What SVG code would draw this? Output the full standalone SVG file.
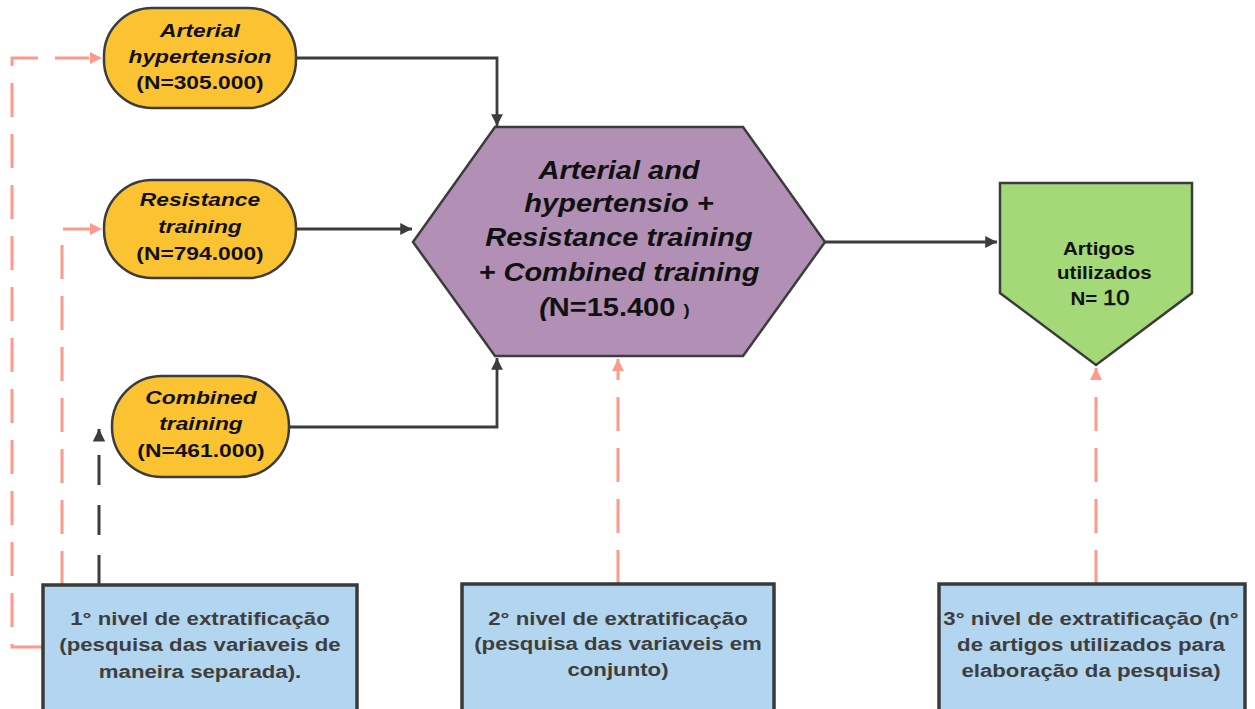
<svg xmlns="http://www.w3.org/2000/svg" width="1255" height="709" viewBox="0 0 1255 709">
<style>
.pill{fill:#fbc332;stroke:#3c3c3c;stroke-width:2.5}
.hex{fill:#b290b6;stroke:#3c3c3c;stroke-width:2.5}
.grn{fill:#a3d977;stroke:#3c3c3c;stroke-width:2.5}
.blue{fill:#b3d6f0;stroke:#3a3a3a;stroke-width:3.5}
.t{font-family:"Liberation Sans",Arial,sans-serif;font-weight:bold;text-anchor:middle;fill:#111}
.ti{font-style:italic}
.tb{fill:#3e3e3e;font-size:19px}
.solid{fill:none;stroke:#3c3c3c;stroke-width:2.8}
.pink{fill:none;stroke:#fe9a8c;stroke-width:3;stroke-dasharray:34 17}
.dark{fill:none;stroke:#3c3c3c;stroke-width:3;stroke-dasharray:30 20}
</style>
<defs>
<marker id="ad" viewBox="0 0 10 10" refX="10" refY="5" markerWidth="4.2" markerHeight="4.2" markerUnits="strokeWidth" orient="auto"><path d="M0,0 L10,5 L0,10 Z" fill="#3c3c3c"/></marker>
<marker id="ap" viewBox="0 0 10 10" refX="10" refY="5" markerWidth="4" markerHeight="4" markerUnits="strokeWidth" orient="auto"><path d="M0,0 L10,5 L0,10 Z" fill="#fe9a8c"/></marker>
</defs>
<rect width="1255" height="709" fill="#fff"/>
<g id="connectors">
<path class="solid" d="M296,58 H497 V126" marker-end="url(#ad)"/>
<path class="solid" d="M296,229 H412" marker-end="url(#ad)"/>
<path class="solid" d="M289,427 H497 V358" marker-end="url(#ad)"/>
<path class="solid" d="M825,242 H997" marker-end="url(#ad)"/>
<path class="pink" d="M43,647 H12 V58 H102" marker-end="url(#ap)"/>
<path class="pink" d="M62,585 V229 H102" marker-end="url(#ap)"/>
<path class="dark" d="M99,585 V429" marker-end="url(#ad)"/>
<path class="pink" d="M618,584 V359" marker-end="url(#ap)"/>
<path class="pink" d="M1096,584 V368" marker-end="url(#ap)"/>
</g>
<g id="n-arterial">
<rect class="pill" x="104" y="8" width="192" height="100" rx="48"/>
<g transform="translate(200,0) scale(1.2,1)">
<text class="t ti" font-size="19" x="0" y="37">Arterial</text>
<text class="t ti" font-size="19" x="0" y="63">hypertension</text>
<text class="t" font-size="19" x="0" y="89">(N=305.000)</text>
</g>
</g>
<g id="n-resistance">
<rect class="pill" x="104" y="180" width="192" height="98" rx="48"/>
<g transform="translate(200,0) scale(1.2,1)">
<text class="t ti" font-size="19" x="0" y="206">Resistance</text>
<text class="t ti" font-size="19" x="0" y="233">training</text>
<text class="t" font-size="19" x="0" y="260">(N=794.000)</text>
</g>
</g>
<g id="n-combined">
<rect class="pill" x="112" y="376" width="177" height="101" rx="50"/>
<g transform="translate(201,0) scale(1.2,1)">
<text class="t ti" font-size="19" x="0" y="404">Combined</text>
<text class="t ti" font-size="19" x="0" y="430">training</text>
<text class="t" font-size="19" x="0" y="457">(N=461.000)</text>
</g>
</g>
<g id="n-hex">
<polygon class="hex" points="495,127 743,127 825,242 743,356 495,356 413,242"/>
<g transform="translate(619,0) scale(1.16,1)">
<text class="t ti" font-size="25" x="0" y="179">Arterial and</text>
<text class="t ti" font-size="25" x="0" y="212">hypertensio +</text>
<text class="t ti" font-size="25" x="0" y="246">Resistance training</text>
<text class="t ti" font-size="25" x="0" y="281">+ Combined training</text>
<text class="t" font-size="25" x="-4" y="316"><tspan font-style="italic">(</tspan>N=15.400 <tspan font-size="16">)</tspan></text>
</g>
</g>
<g id="n-artigos">
<polygon class="grn" points="1000,183 1192,183 1192,293 1096,365 1000,293"/>
<g transform="translate(1100,0) scale(1.08,1)">
<text class="t" font-size="19" x="-1" y="255">Artigos</text>
<text class="t" font-size="19" x="4" y="279">utilizados</text>
<text class="t" font-size="19" x="0" y="305">N= <tspan font-size="22" font-weight="normal" stroke="#111" stroke-width="0.6">10</tspan></text>
</g>
</g>
<g id="n-level1">
<rect class="blue" x="43" y="585" width="314" height="140"/>
<g transform="translate(200,0) scale(1.17,1)">
<text class="t tb" x="0" y="625">1° nivel de extratificação</text>
<text class="t tb" x="0" y="651">(pesquisa das variaveis de</text>
<text class="t tb" x="0" y="678">maneira separada).</text>
</g>
</g>
<g id="n-level2">
<rect class="blue" x="462" y="584" width="312" height="140"/>
<g transform="translate(618,0) scale(1.17,1)">
<text class="t tb" x="0" y="625">2° nivel de extratificação</text>
<text class="t tb" x="0" y="650">(pesquisa das variaveis em</text>
<text class="t tb" x="0" y="676">conjunto)</text>
</g>
</g>
<g id="n-level3">
<rect class="blue" x="939" y="584" width="306" height="140"/>
<g transform="translate(1091,0) scale(1.17,1)">
<text class="t tb" x="0" y="625">3° nivel de extratificação (n°</text>
<text class="t tb" x="0" y="651">de artigos utilizados para</text>
<text class="t tb" x="0" y="677">elaboração da pesquisa)</text>
</g>
</g>
</svg>
